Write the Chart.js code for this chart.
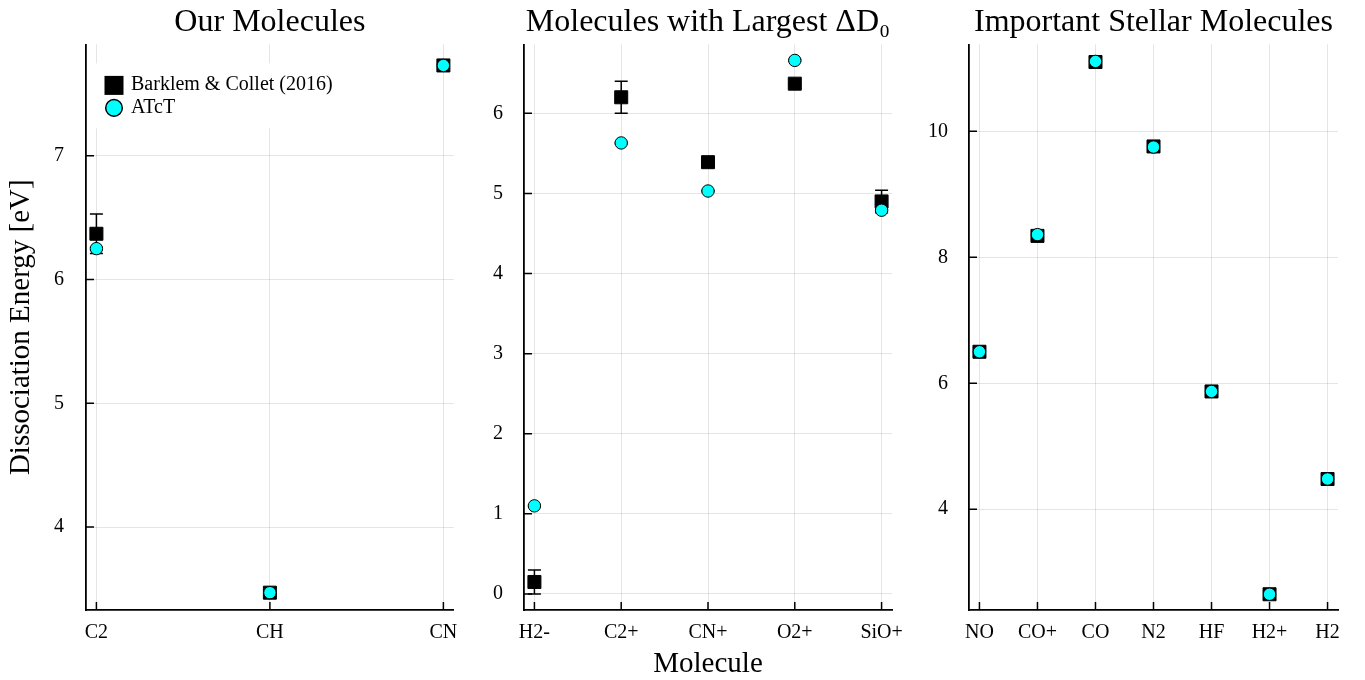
<!DOCTYPE html>
<html>
<head>
<meta charset="utf-8">
<script src="https://cdn.jsdelivr.net/npm/chart.js@4.4.1/dist/chart.umd.min.js"></script>
<style>
  html, body { margin: 0; padding: 0; background: #fff; }
  #wrap { position: relative; width: 1365px; height: 680px; overflow: hidden; }
  canvas { position: absolute; top: 0; }
</style>
</head>
<body>
<div id="wrap">
  <canvas id="c1" width="464" height="680" style="left:0px"></canvas>
  <canvas id="c2" width="450" height="680" style="left:460px"></canvas>
  <canvas id="c3" width="455" height="680" style="left:910px"></canvas>
</div>
<script>
// panel 1: our molecules
const ourMolecules = ['C2', 'CH', 'CN']
const ourBarklem = [6.37, 3.47, 7.73]
const ourBarklemErr = [0.16, 0.01, 0.01]
const ourAtct = [6.25, 3.47, 7.73]
const ourAtctErr = [0.01, 0.01, 0.01]

// panel 2: largest ΔD0
const largestMolecules = ['H2-', 'C2+', 'CN+', 'O2+', 'SiO+']
const largestBarklem = [0.15, 6.2, 5.39, 6.37, 4.9]
const largestBarklemErr = [0.15, 0.2, 0.01, 0.01, 0.14]
const largestAtct = [1.1, 5.63, 5.03, 6.66, 4.79]
const largestAtctErr = [0.01, 0.01, 0.01, 0.01, 0.01]

// panel 3: stellar molecules
const stellarMolecules = ['NO', 'CO+', 'CO', 'N2', 'HF', 'H2+', 'H2']
const stellarBarklem = [6.5, 8.34, 11.1, 9.76, 5.87, 2.65, 4.48]
const stellarBarklemErr = [0.01, 0.01, 0.01, 0.01, 0.01, 0.01, 0.01]
const stellarAtct = [6.5, 8.36, 11.11, 9.75, 5.87, 2.65, 4.48]
const stellarAtctErr = [0.01, 0.01, 0.01, 0.01, 0.01, 0.01, 0.01]

const FONT = '"Liberation Serif", "Times New Roman", serif'
Chart.defaults.font.family = FONT
Chart.defaults.color = '#000'

const GRID = 'rgba(0,0,0,0.1)'

const toPoints = vals => vals.map((v, i) => ({ x: i, y: v }))

const errorBars = {
  id: 'errorBars',
  beforeDatasetsDraw(chart) {
    const { ctx, scales: { x, y } } = chart
    ctx.save()
    ctx.strokeStyle = '#000'
    ctx.lineWidth = 1.5
    chart.data.datasets.forEach(ds => {
      if (!ds.errors) return
      ds.data.forEach((pt, i) => {
        const px = x.getPixelForValue(pt.x)
        const lo = y.getPixelForValue(pt.y - ds.errors[i])
        const hi = y.getPixelForValue(pt.y + ds.errors[i])
        ctx.beginPath()
        ctx.moveTo(px, lo); ctx.lineTo(px, hi)
        ctx.moveTo(px - 6.5, lo); ctx.lineTo(px + 6.5, lo)
        ctx.moveTo(px - 6.5, hi); ctx.lineTo(px + 6.5, hi)
        ctx.stroke()
      })
    })
    ctx.restore()
  }
}

// tick marks pointing into the plot
const innerTicks = {
  id: 'innerTicks',
  beforeDatasetsDraw(chart) {
    const { ctx, chartArea: a, scales: { x, y } } = chart
    ctx.save()
    ctx.strokeStyle = '#000'
    ctx.lineWidth = 1.5
    ctx.beginPath()
    x.ticks.forEach(t => {
      const px = x.getPixelForValue(t.value)
      ctx.moveTo(px, a.bottom); ctx.lineTo(px, a.bottom - 8)
    })
    y.ticks.forEach(t => {
      const py = y.getPixelForValue(t.value)
      ctx.moveTo(a.left, py); ctx.lineTo(a.left + 8, py)
    })
    ctx.stroke()
    ctx.restore()
  }
}

const boxLegend = {
  id: 'boxLegend',
  beforeDatasetsDraw(chart) {
    const { ctx, chartArea: a } = chart
    const [sq, ci] = chart.data.datasets
    ctx.save()
    ctx.fillStyle = '#fff'
    ctx.fillRect(a.left + 4, a.top + 19, 262, 65)
    ctx.fillStyle = '#000'
    ctx.fillRect(a.left + 18.5, a.top + 31.5, 19, 19)
    ctx.beginPath()
    ctx.arc(a.left + 28, a.top + 63.5, 8.3, 0, Math.PI * 2)
    ctx.fillStyle = '#00ffff'
    ctx.fill()
    ctx.lineWidth = 1.5
    ctx.strokeStyle = '#000'
    ctx.stroke()
    ctx.fillStyle = '#000'
    ctx.font = '20px ' + FONT
    ctx.textBaseline = 'alphabetic'
    ctx.fillText(sq.label, a.left + 45, a.top + 46)
    ctx.fillText(ci.label, a.left + 45, a.top + 69)
    ctx.restore()
  }
}

function makePanel(id, cfg) {
  const names = cfg.names
  const plugins = [errorBars, innerTicks]
  if (cfg.legend) plugins.push(boxLegend)
  return new Chart(document.getElementById(id), {
    type: 'scatter',
    data: {
      datasets: [
        {
          label: 'Barklem & Collet (2016)',
          data: toPoints(cfg.barklem),
          errors: cfg.barklemErr,
          order: 2,
          pointStyle: 'rect',
          pointRadius: 9.2,
          backgroundColor: '#000',
          borderColor: '#000',
          borderWidth: 1
        },
        {
          label: 'ATcT',
          data: toPoints(cfg.atct),
          errors: cfg.atctErr,
          order: 1,
          pointStyle: 'circle',
          pointRadius: 6.2,
          backgroundColor: '#00ffff',
          borderColor: '#000',
          borderWidth: 1
        }
      ]
    },
    options: {
      responsive: false,
      animation: false,
      devicePixelRatio: 1,
      layout: { padding: { top: 0, bottom: 0, left: 0, right: cfg.rightPad } },
      plugins: {
        legend: { display: false },
        tooltip: { enabled: false },
        title: {
          display: true,
          text: cfg.title,
          fullSize: false,
          font: { size: 32, weight: 'normal', lineHeight: 1.2 },
          color: '#000',
          padding: { top: 3, bottom: 3 }
        }
      },
      scales: {
        x: {
          type: 'linear',
          min: -cfg.xPad,
          max: names.length - 1 + cfg.xPad,
          afterFit: s => { s.height = 70; s.paddingLeft = 0; s.paddingRight = 0 },
          ticks: {
            stepSize: 1,
            includeBounds: false,
            autoSkip: false,
            maxRotation: 0,
            padding: 11,
            font: { size: 20 },
            color: '#000',
            callback: v => Number.isInteger(v) ? names[v] : ''
          },
          grid: { color: GRID, lineWidth: 1, drawTicks: false },
          border: { display: true, color: '#000', width: 1.8 },
          title: {
            display: !!cfg.xTitle,
            text: cfg.xTitle || '',
            font: { size: 29, lineHeight: 1 },
            color: '#000',
            padding: 1
          }
        },
        y: {
          min: cfg.yMin,
          max: cfg.yMax,
          afterFit: s => { s.width = cfg.yWidth; s.paddingTop = 0; s.paddingBottom = 0 },
          ticks: {
            stepSize: cfg.yStep,
            includeBounds: false,
            padding: cfg.yTickPad,
            font: { size: 20 },
            color: '#000'
          },
          grid: { color: GRID, lineWidth: 1, drawTicks: false },
          border: { display: true, color: '#000', width: 1.8 },
          title: {
            display: !!cfg.yTitle,
            text: cfg.yTitle || '',
            font: { size: 29, lineHeight: 1 },
            color: '#000',
            padding: 7
          }
        }
      }
    },
    plugins
  })
}

makePanel('c1', {
  title: 'Our Molecules',
  names: ourMolecules,
  barklem: ourBarklem, barklemErr: ourBarklemErr,
  atct: ourAtct, atctErr: ourAtctErr,
  xPad: 0.06, yMin: 3.33, yMax: 7.9, yStep: 1,
  yWidth: 86, rightPad: 2, yTickPad: 22,
  yTitle: 'Dissociation Energy [eV]',
  legend: true
})

makePanel('c2', {
  title: 'Molecules with Largest ΔD₀',
  names: largestMolecules,
  barklem: largestBarklem, barklemErr: largestBarklemErr,
  atct: largestAtct, atctErr: largestAtctErr,
  xPad: 0.12, yMin: -0.2, yMax: 6.86, yStep: 1,
  yWidth: 64, rightPad: 18, yTickPad: 21,
  xTitle: 'Molecule'
})

makePanel('c3', {
  title: 'Important Stellar Molecules',
  names: stellarMolecules,
  barklem: stellarBarklem, barklemErr: stellarBarklemErr,
  atct: stellarAtct, atctErr: stellarAtctErr,
  xPad: 0.18, yMin: 2.4, yMax: 11.38, yStep: 2,
  yWidth: 59, rightPad: 27, yTickPad: 21
})
</script>
</body>
</html>
